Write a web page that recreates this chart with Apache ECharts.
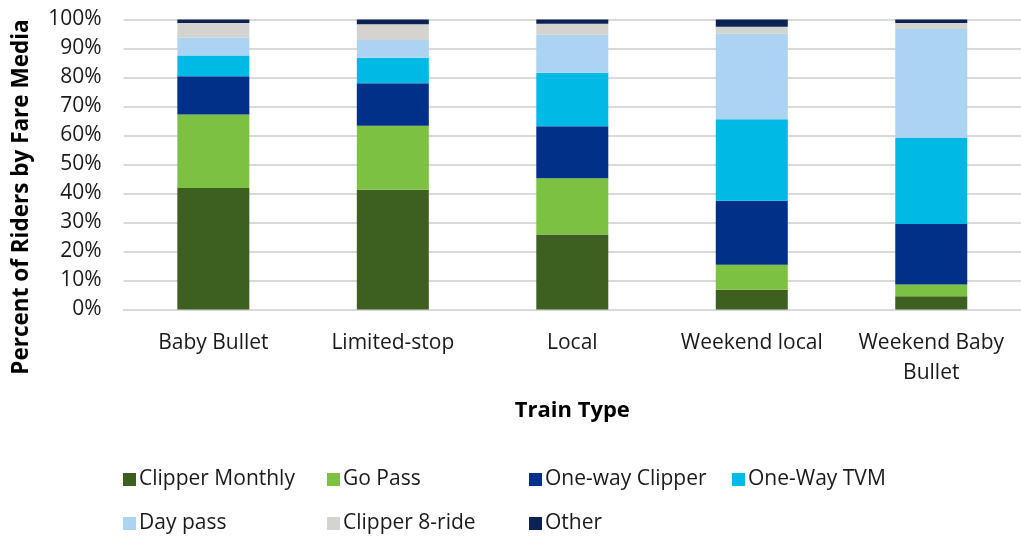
<!DOCTYPE html>
<html>
<head>
<meta charset="utf-8">
<script src="https://cdn.jsdelivr.net/npm/echarts@6/dist/echarts.min.js"></script>
<style>html,body{margin:0;padding:0;background:#fff}#c{width:1021px;height:537px}</style>
</head>
<body>
<div id="c"></div>
<script>
var categories = ['Baby Bullet', 'Limited-stop', 'Local', 'Weekend local', 'Weekend Baby\nBullet'];
var yTicks = [0, 10, 20, 30, 40, 50, 60, 70, 80, 90, 100];
var seriesNames = ['Clipper Monthly', 'Go Pass', 'One-way Clipper', 'One-Way TVM', 'Day pass', 'Clipper 8-ride', 'Other'];
var clipperMonthly = [41.9, 41.3, 25.9, 6.8, 4.6];
var goPass = [25.3, 22.1, 19.4, 8.6, 4.0];
var onewayClipper = [13.2, 14.6, 17.9, 22.1, 20.9];
var onewayTVM = [7.2, 8.8, 18.4, 28.1, 29.6];
var dayPass = [6.1, 6.1, 13.1, 29.5, 37.6];
var clipper8 = [5.1, 5.5, 3.8, 2.4, 2.1];
var other = [1.2, 1.6, 1.5, 2.5, 1.2];
var colors = ['#3d6021', '#7cc142', '#003087', '#00b9e4', '#abd3f2', '#d4d3cf', '#0d2254'];
var values = [clipperMonthly, goPass, onewayClipper, onewayTVM, dayPass, clipper8, other];

var FONT = 'Open Sans';
var chart = echarts.init(document.getElementById('c'));
var legendPos = [[118, 464], [322, 464], [524, 464], [727, 464], [118, 508], [322, 508], [524, 508]];
var legends = seriesNames.map(function (n, i) {
  return {
    data: [n], left: legendPos[i][0], top: legendPos[i][1],
    itemWidth: 13, itemHeight: 13, itemGap: 0, icon: 'rect',
    textStyle: { fontFamily: FONT, fontSize: 21, color: '#1a1a1a', padding: [0, 0, 0, -2] },
    selectedMode: false
  };
});
chart.setOption({
  animation: false,
  textStyle: { fontFamily: FONT },
  legend: legends,
  grid: { left: 123.6, right: -6, top: 19.5, bottom: 227.5, containLabel: false },
  xAxis: {
    type: 'category', data: categories,
    axisLine: { show: true, lineStyle: { color: '#d9d9d9', width: 2 } },
    axisTick: { show: false },
    axisLabel: { fontFamily: FONT, fontSize: 21, color: '#1a1a1a', margin: 19, lineHeight: 30, interval: 0 },
    name: 'Train Type', nameLocation: 'middle', nameGap: 90,
    nameTextStyle: { fontFamily: FONT, fontSize: 22, fontWeight: 'bold', color: '#000' }
  },
  yAxis: {
    type: 'value', min: 0, max: 100, interval: 10,
    axisLine: { show: false }, axisTick: { show: false },
    splitLine: { lineStyle: { color: '#d9d9d9', width: 2 } },
    axisLabel: { fontFamily: FONT, fontSize: 21, color: '#1a1a1a', margin: 22,
      formatter: function (v) { return yTicks.indexOf(v) >= 0 ? v + '%' : ''; } }
  },
  graphic: [{
    type: 'text', x: 22, y: 197, rotation: Math.PI / 2,
    style: { text: 'Percent of Riders by Fare Media', fontFamily: FONT, fontSize: 22.5, fontWeight: 'bold',
      fill: '#000', align: 'center', verticalAlign: 'middle' }
  }],
  series: seriesNames.map(function (n, i) {
    return {
      name: n, type: 'bar', stack: 'all', barWidth: 72, data: values[i],
      itemStyle: { color: colors[i] }
    };
  })
});
</script>
</body>
</html>
